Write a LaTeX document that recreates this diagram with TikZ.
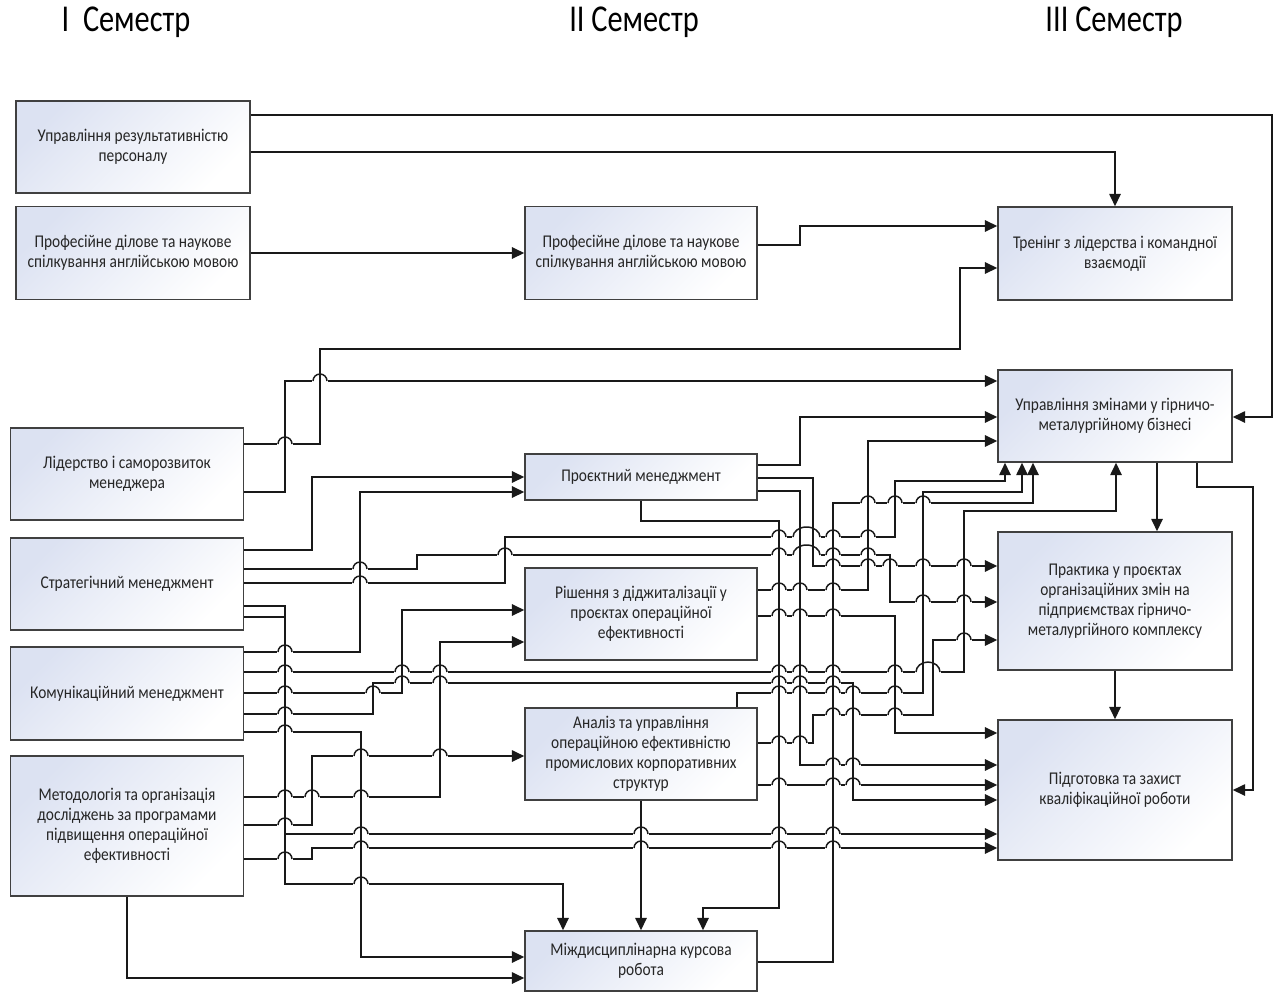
\documentclass[tikz,border=0pt]{standalone}
\usepackage{fontspec}
\setmainfont{Carlito}
\newfontfamily\boxfont[FakeStretch=0.86]{Carlito}
\newfontfamily\semfont[FakeStretch=0.8]{Carlito}
\usetikzlibrary{arrows.meta}
\definecolor{boxtop}{RGB}{220,226,242}
\tikzset{
>={Triangle[length=7pt,width=6.5pt]},
  kurs/.style={
    rectangle,
    draw=black!75, line width=0.9pt,
    top color=boxtop, bottom color=white, shading angle=45,
    align=center,
    inner sep=0pt,
    text=black!85,
    font=\boxfont\fontsize{10.2}{11.4}\selectfont},
  line/.style={draw=black!90, line width=0.85pt},
  arr/.style={line, ->},
  sem/.style={font=\semfont\fontsize{21.6}{24}\selectfont},
}
% line jump: #1,#2 crossing point, #3 radius
\newcommand\hop[3]{%
  \fill[white] (#1-#3-0.6,#2-1.8) rectangle (#1+#3+0.6,#2+1.8);
  \draw[line] (#1,#2-2.4) -- (#1,#2+2.4);
  \draw[line] (#1-#3,#2) arc[start angle=180,end angle=360,radius=#3];
}
% one jump over two close lines #1 and #2 at height #3
\newcommand\bighop[3]{%
  \fill[white] (#1-7.6,#3-1.8) rectangle (#2+7.6,#3+1.8);
  \draw[line] (#1,#3-2.4) -- (#1,#3+2.4);
  \draw[line] (#2,#3-2.4) -- (#2,#3+2.4);
  \draw[line] (#1-7,#3) arc[start angle=180,end angle=360,x radius={(#2-#1)/2+7},y radius=10];
}

\begin{document}
\begin{tikzpicture}[x=0.02cm, y=-0.02cm]
  \useasboundingbox (0,0) rectangle (1283,994);

  \node[sem] (s1) at (126,22) {I~~Семестр};
  \node[sem] (s2) at (634,22) {II Семестр};
  \node[sem] (s3) at (1114,22) {III Семестр};

  % I semester
  \node[kurs, minimum width=4.68cm, minimum height=1.84cm] (A1) at (133,147)
    {Управління результативністю\\персоналу};
  \node[kurs, minimum width=4.68cm, minimum height=1.86cm] (A2) at (133,253)
    {Професійне ділове та наукове\\спілкування англійською мовою};
  \node[kurs, minimum width=4.66cm, minimum height=1.84cm] (A3) at (127,474)
    {Лідерство і саморозвиток\\менеджера};
  \node[kurs, minimum width=4.66cm, minimum height=1.84cm] (A4) at (127,584)
    {Стратегічний менеджмент};
  \node[kurs, minimum width=4.66cm, minimum height=1.86cm] (A5) at (127,693.5)
    {Комунікаційний менеджмент};
  \node[kurs, minimum width=4.66cm, minimum height=2.8cm] (A6) at (127,826)
    {Методологія та організація\\досліджень за програмами\\підвищення операційної\\ефективності};

  % II semester
  \node[kurs, minimum width=4.64cm, minimum height=1.86cm] (B1) at (641,253)
    {Професійне ділове та наукове\\спілкування англійською мовою};
  \node[kurs, minimum width=4.64cm, minimum height=0.92cm] (B2) at (641,477)
    {Проєктний менеджмент};
  \node[kurs, minimum width=4.64cm, minimum height=1.84cm] (B3) at (641,614)
    {Рішення з діджиталізації у\\проєктах операційної\\ефективності};
  \node[kurs, minimum width=4.64cm, minimum height=1.84cm] (B4) at (641,754)
    {Аналіз та управління\\операційною ефективністю\\промислових корпоративних\\структур};
  \node[kurs, minimum width=4.64cm, minimum height=1.2cm] (B5) at (641,961)
    {Міждисциплінарна курсова\\робота};

  % III semester
  \node[kurs, minimum width=4.68cm, minimum height=1.86cm] (C1) at (1115,253.5)
    {Тренінг з лідерства і командної\\взаємодії};
  \node[kurs, minimum width=4.68cm, minimum height=1.84cm] (C2) at (1115,416)
    {Управління змінами у гірничо-\\металургійному бізнесі};
  \node[kurs, minimum width=4.68cm, minimum height=2.76cm] (C3) at (1115,601)
    {Практика у проєктах\\організаційних змін на\\підприємствах гірничо-\\металургійного комплексу};
  \node[kurs, minimum width=4.68cm, minimum height=2.8cm] (C4) at (1115,790)
    {Підготовка та захист\\кваліфікаційної роботи};

  % connectors
  \draw[arr] (A1.east |- 0,115) -| (1272,417) -- (C2.east |- 0,417);
  \draw[arr] (A1.east |- 0,152) -| (C1.north);
  \draw[arr] (A2) -- (B1);
  \draw[arr] (B1.east |- 0,245) -| (800,226) -- (C1.west |- 0,226);
  \draw[arr] (A3.east |- 0,444) -| (320,349) -| (960,268) -- (C1.west |- 0,268);
  \draw[arr] (A3.east |- 0,492) -| (285,381) -- (C2.west |- 0,381);
  \draw[arr] (A4.east |- 0,550) -| (312,477) -- (B2.west |- 0,477);
  \draw[arr] (A4.east |- 0,569) -| (417,555) -| (890,602) -- (C3.west |- 0,602);
  \draw[arr] (A4.east |- 0,583) -| (505,537) -| (895,481) -| (C2.south -| 1005,0);
  \draw[arr] (A4.east |- 0,606) -| (285,834) -- (C4.west |- 0,834);
  \draw[arr] (A4.east |- 0,617) -| (285,884) -| (B5.north -| 563,0);
  \draw[arr] (A5.east |- 0,652) -| (360,492) -- (B2.west |- 0,492);
  \draw[arr] (A5.east |- 0,672) -| (964,511) -| (C2.south -| 1116,0);
  \draw[arr] (A5.east |- 0,693) -| (402,610) -- (B3.west |- 0,610);
  \draw[arr] (A5.east |- 0,714) -| (373,683) -| (853,800) -- (C4.west |- 0,800);
  \draw[arr] (A5.east |- 0,732) -| (361,957) -- (B5.west |- 0,957);
  \draw[arr] (A6.east |- 0,797) -| (440,642) -- (B3.west |- 0,642);
  \draw[arr] (A6.east |- 0,825) -| (312,756) -- (B4.west |- 0,756);
  \draw[arr] (A6.east |- 0,859) -| (312,848) -- (C4.west |- 0,848);
  \draw[arr] (A6.south) |- (B5.west |- 0,978);
  \draw[arr] (B2.east |- 0,465) -| (800,417) -- (C2.west |- 0,417);
  \draw[arr] (B2.east |- 0,478) -| (813,566) -- (C3.west |- 0,566);
  \draw[arr] (B2.east |- 0,491) -| (800,765) -- (C4.west |- 0,765);
  \draw[arr] (B2.south) |- (779,521) |- (703,908) -- (B5.north -| 703,0);
  \draw[arr] (B3.east |- 0,590) -| (868,441) -- (C2.west |- 0,441);
  \draw[arr] (B3.east |- 0,616) -| (895,733) -- (C4.west |- 0,733);
  \draw[arr] (B4.north -| 737,0) |- (923,693) |- (1022,492) -- (C2.south -| 1022,0);
  \draw[arr] (B4.east |- 0,743) -| (813,715) -| (933,640) -- (C3.west |- 0,640);
  \draw[arr] (B4.east |- 0,785) -- (C4.west |- 0,785);
  \draw[arr] (B4) -- (B5);
  \draw[arr] (B5.east |- 0,962) -| (833,503) -| (C2.south -| 1033,0);
  \draw[arr] (C2.south -| 1157,0) -- (C3.north -| 1157,0);
  \draw[arr] (C2.south -| 1197,0) |- (1253,487) |- (C4.east |- 0,790);
  \draw[arr] (C3) -- (C4);

  % line jumps
  \foreach \hx/\hy/\hr in {
    285/444/7, 320/381/7, 285/652/7, 360/569/7, 360/583/7,
    505/555/7, 779/555/7, 833/555/7, 868/555/7,
    923/602/7, 964/602/7,
    779/537/7, 833/537/7, 868/537/7,
    361/834/7, 641/834/7, 779/834/7, 833/834/7, 361/884/7,
    285/672/7, 402/672/7, 440/672/7, 779/672/7, 800/672/7, 833/672/7,
    895/672/7,
    285/693/7, 373/693/7, 285/714/7,
    402/683/7, 440/683/7, 779/683/7, 800/683/7, 833/683/7,
    285/732/7, 285/797/7, 312/797/7, 361/797/7, 285/825/7,
    361/756/7, 440/756/7, 285/859/7,
    361/848/7, 641/848/7, 779/848/7, 833/848/7,
    833/566/7, 868/566/7, 890/566/7, 923/566/7, 964/566/7,
    833/765/7, 853/765/7,
    779/590/7, 800/590/7, 833/590/7,
    779/616/7, 800/616/7, 833/616/7,
    779/693/7, 800/693/7, 833/693/7, 853/693/7, 895/693/7,
    779/743/7, 800/743/7,
    833/715/7, 853/715/7, 895/715/7,
    964/640/7,
    779/785/7, 833/785/7, 853/785/7,
    868/503/7, 895/503/7, 923/503/7}
    {\hop{\hx}{\hy}{\hr}}
  \bighop{800}{813}{555}
  \bighop{800}{813}{537}
  \bighop{923}{933}{672}
\end{tikzpicture}
\end{document}
